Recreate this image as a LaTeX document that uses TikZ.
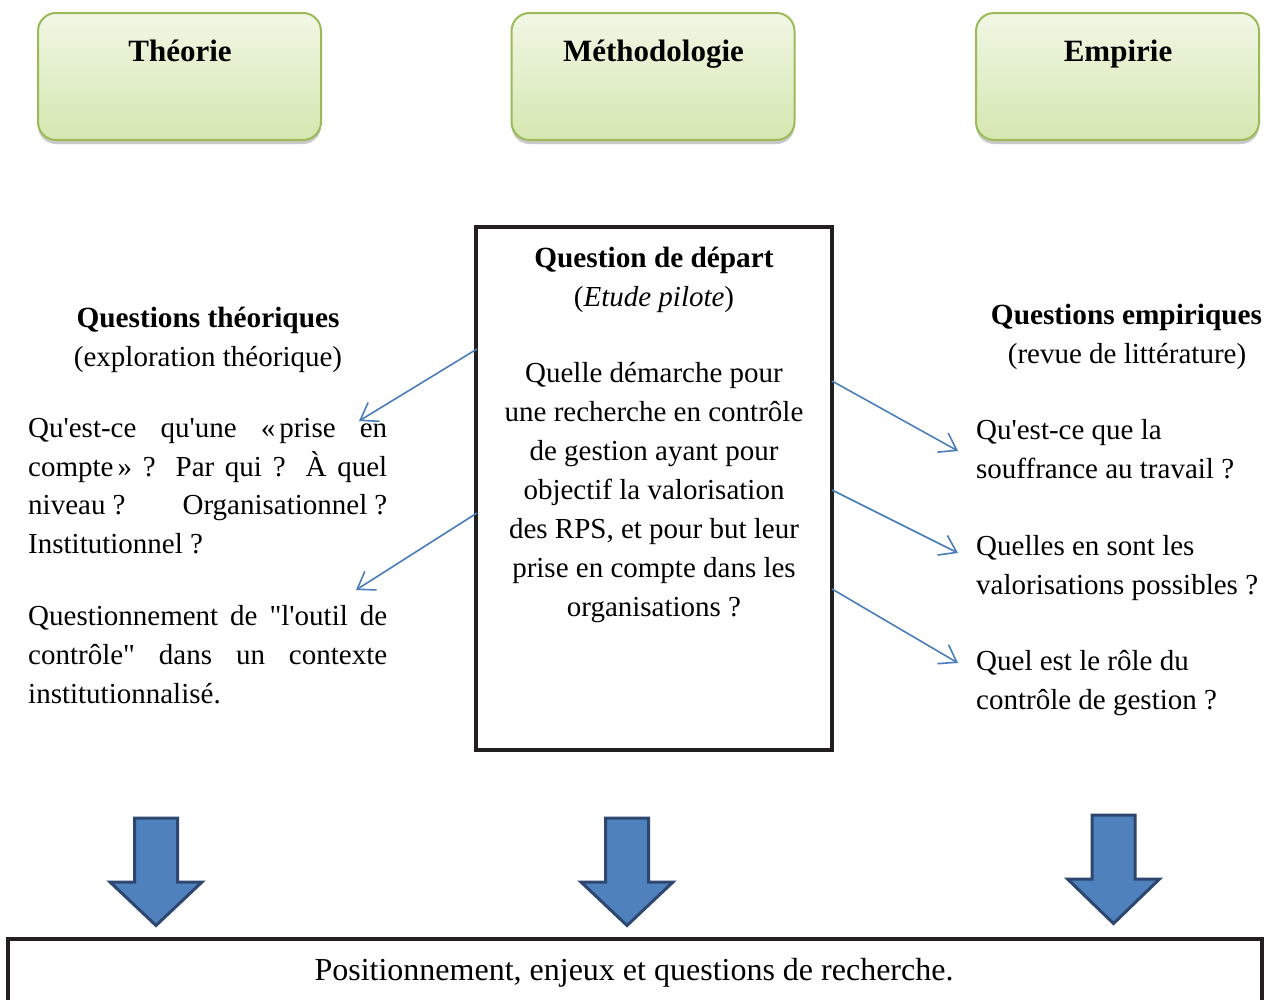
\documentclass[tikz,border=0pt]{standalone}
\usepackage{fontspec}
\setmainfont{Liberation Serif}[Ligatures=TeXOff]
\usetikzlibrary{arrows.meta,shadows}
\definecolor{boxgreen}{HTML}{9BBB59}
\definecolor{gtop}{HTML}{F1F7E5}
\definecolor{gbot}{HTML}{D5E7B0}
\definecolor{linkblue}{HTML}{4A7EBB}
\definecolor{blockfill}{HTML}{4F81BD}
\definecolor{blockedge}{HTML}{2E4770}
\definecolor{framecol}{HTML}{231F20}
\begin{document}
\begin{tikzpicture}[x=1pt,y=-1pt,
  topbox/.style={draw=boxgreen, line width=2pt, rounded corners=18pt,
    top color=gtop, bottom color=gbot, minimum width=283pt, minimum height=127pt,
    inner sep=0pt, drop shadow={shadow xshift=0pt, shadow yshift=-4pt, fill=black!35, opacity=.6}},
  ttl/.style={font=\fontsize{31}{37}\selectfont\bfseries, inner sep=0pt, anchor=base},
  txt/.style={font=\fontsize{29}{38}\selectfont, inner sep=0pt, anchor=base},
  txtb/.style={txt, font=\fontsize{29.3}{38}\selectfont\bfseries},
  txtl/.style={txt, anchor=base west},
  framebox/.style={draw=framecol, line width=4pt, inner sep=0pt},
  link/.style={draw=linkblue, line width=1.6pt, -{Straight Barb[length=16pt,width=22pt]}},
  blockarrow/.style={fill=blockfill, draw=blockedge, line width=3pt, line join=miter}]
\clip (0,0) rectangle (1271,999);
\fill[white] (0,0) rectangle (1271,999);

% top boxes
\node[topbox] (theo) at (179.5,76.5) {};
\node[topbox] (meth) at (653,76.5) {};
\node[topbox] (emp) at (1117.5,76.5) {};
\node[ttl] (theoT) at (180,61) {Théorie};
\node[ttl] (methT) at (653.5,61) {Méthodologie};
\node[ttl] (empT) at (1118,61) {Empirie};

% central box
\node[framebox, minimum width=356pt, minimum height=523pt] (qd) at (654,488.5) {};
\node[txtb] (qd1) at (654,267.5) {Question de départ};
\node[txt] (qd2) at (654,306.5) {(\textit{Etude pilote})};
\node[txt] (qd3) at (654,382) {Quelle démarche pour};
\node[txt] (qd4) at (654,421) {une recherche en contrôle};
\node[txt] (qd5) at (654,460) {de gestion ayant pour};
\node[txt] (qd6) at (654,499) {objectif la valorisation};
\node[txt] (qd7) at (654,538) {des RPS, et pour but leur};
\node[txt] (qd8) at (654,577) {prise en compte dans les};
\node[txt] (qd9) at (654,616) {organisations ?};

% left column
\node[txtb] (lt1) at (208,327.5) {Questions théoriques};
\node[txt] (lt2) at (208,366.5) {(exploration théorique)};
\node[txtl] (la1) at (28,437.5) {\makebox[359pt][s]{Qu'est-ce qu'une «\hspace{4pt}prise en}};
\node[txtl] (la2) at (28,476) {\makebox[359pt][s]{compte\hspace{4pt}» ? Par qui ? À quel}};
\node[txtl] (la3) at (28,514.5) {\makebox[359pt][s]{niveau\hspace{7pt}? Organisationnel\hspace{7pt}?}};
\node[txtl] (la4) at (28,553.5) {Institutionnel ?};
\node[txtl] (lb1) at (28,625) {\makebox[359pt][s]{Questionnement de "l'outil de}};
\node[txtl] (lb2) at (28,664) {\makebox[359pt][s]{contrôle" dans un contexte}};
\node[txtl] (lb3) at (28,703) {institutionnalisé.};

% right column
\node[txtb] (rt1) at (1126.5,324) {Questions empiriques};
\node[txt] (rt2) at (1127,363) {(revue de littérature)};
\node[txtl] (ra1) at (976,439.5) {Qu'est-ce que la};
\node[txtl] (ra2) at (976,478.5) {souffrance au travail ?};
\node[txtl] (rb1) at (976,555) {Quelles en sont les};
\node[txtl] (rb2) at (976,594) {valorisations possibles ?};
\node[txtl] (rc1) at (976,670) {Quel est le rôle du};
\node[txtl] (rc2) at (976,709) {contrôle de gestion ?};

% connectors
\coordinate (tL1) at (359,421);
\coordinate (tL2) at (356,590);
\coordinate (tR1) at (958,451);
\coordinate (tR2) at (958,553);
\coordinate (tR3) at (958,663);
\draw[link] (qd.west |- 0,349) ++(3,0) -- (tL1);
\draw[link] (qd.west |- 0,513) ++(3,0) -- (tL2);
\draw[link] (qd.east |- 0,381) ++(-2,0) -- (tR1);
\draw[link] (qd.east |- 0,490) ++(-2,0) -- (tR2);
\draw[link] (qd.east |- 0,589) ++(-2,0) -- (tR3);

% block arrows
\foreach \cx/\ty/\hy/\tipy in {156/818/882/925.5, 627/818/882/925.5, 1113.5/815/879/923.5}{
  \draw[blockarrow] (\cx-21.5,\ty) -- (\cx+21.5,\ty) -- (\cx+21.5,\hy) -- (\cx+46,\hy)
    -- (\cx,\tipy) -- (\cx-46,\hy) -- (\cx-21.5,\hy) -- cycle;
}

% bottom box
\node[framebox, minimum width=1254pt, minimum height=100pt, anchor=north] (pos) at (635,937) {};
\node[txt, font=\fontsize{32}{38}\selectfont] (posT) at (634,980.5) {Positionnement, enjeux et questions de recherche.};
\end{tikzpicture}
\end{document}
